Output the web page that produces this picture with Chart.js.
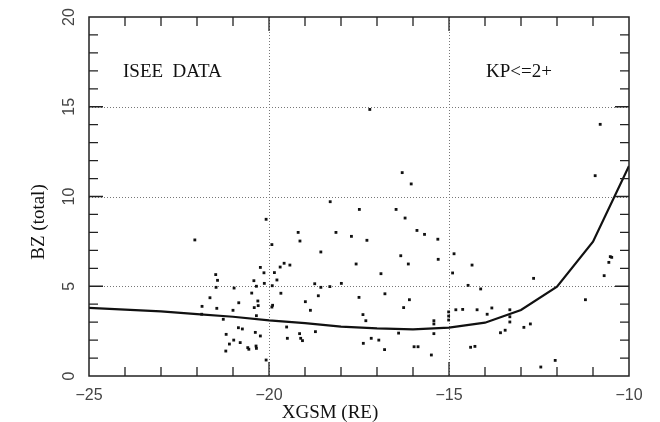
<!DOCTYPE html>
<html>
<head>
<meta charset="utf-8">
<script src="https://cdn.jsdelivr.net/npm/chart.js@4/dist/chart.umd.min.js"></script>
<style>
  body { margin: 0; background: #fff; }
  canvas { display: block; }
</style>
</head>
<body>
<canvas id="bzChart" width="660" height="422"></canvas>
<script>
// observed BZ samples
const scatterX = [
    -22.06, -20.08, -19.92, -19.19, -19.14, -18.3, -17.49, -18.14, -17.71, -17.28,
    -18.56, -17.58, -19.58, -19.42, -19.69, -19.85, -20.24, -20.14, -20.42, -20.13,
    -20.35, -19.91, -19.78, -21.48, -21.43, -21.47, -20.97, -20.48, -21.64, -21.86,
    -21.45, -20.84, -21.0, -20.31, -20.3, -20.41, -20.35, -19.9, -19.92, -19.67,
    -18.73, -18.56, -18.63, -18.31, -17.99, -18.99, -18.85, -17.5, -17.39, -17.31,
    -21.87, -21.27, -20.85, -20.74, -21.19, -20.98, -21.1, -20.8, -21.2, -20.59,
    -20.56, -20.38, -20.36, -20.35, -20.24, -20.08, -19.51, -19.49, -19.15, -19.12,
    -19.07, -18.71, -17.38, -17.16, -16.95,
    -16.3, -16.05, -16.47, -16.22, -15.89, -15.68, -15.31, -15.3, -16.34, -16.13,
    -16.89, -16.78, -16.1, -16.26, -14.86, -14.9, -14.36, -14.47, -14.12, -15.01,
    -15.01, -15.01, -14.81, -14.62, -14.22, -13.94, -13.81, -13.31, -13.31, -13.31,
    -13.57, -13.44, -12.92, -12.74, -12.65, -15.42, -15.42, -15.42, -15.49, -15.97,
    -15.86, -16.4, -16.79, -14.4, -14.28, -12.45, -12.05, -11.21, -10.94, -10.69,
    -10.56, -10.52, -10.48, -17.2, -10.8
];
const scatterY = [
    7.58, 8.73, 7.32, 8.0, 7.52, 9.71, 9.28, 8.0, 7.78, 7.56,
    6.91, 6.24, 6.28, 6.18, 6.07, 5.76, 6.05, 5.75, 5.31, 5.16,
    5.0, 5.03, 5.35, 5.65, 5.33, 4.94, 4.9, 4.62, 4.36, 3.88,
    3.77, 4.08, 3.66, 4.18, 3.92, 3.81, 3.36, 3.94, 3.84, 4.61,
    5.14, 4.94, 4.47, 4.98, 5.16, 4.14, 3.66, 4.38, 3.42, 3.08,
    3.44, 3.16, 2.69, 2.62, 2.32, 2.0, 1.78, 1.86, 1.39, 1.58,
    1.49, 2.43, 1.67, 1.54, 2.23, 0.89, 2.73, 2.1, 2.36, 2.1,
    1.97, 2.47, 1.82, 2.1, 2.0,
    11.33, 10.7, 9.28, 8.8, 8.11, 7.89, 7.62, 6.5, 6.7, 6.24,
    5.7, 4.58, 4.25, 3.81, 6.81, 5.74, 6.18, 5.05, 4.85, 3.57,
    3.34, 3.12, 3.69, 3.71, 3.69, 3.44, 3.79, 3.69, 3.3, 3.01,
    2.41, 2.55, 2.71, 2.9, 5.44, 3.08, 2.9, 2.36, 1.17, 1.63,
    1.63, 2.39, 1.47, 1.6, 1.65, 0.5, 0.87, 4.25, 11.16, 5.59,
    6.33, 6.65, 6.61, 14.85, 14.02
];

// model curve
const lineX = [-25, -24, -23, -22, -21, -20, -19, -18, -17, -16, -15, -14, -13, -12, -11, -10];
const lineY = [3.8, 3.7, 3.6, 3.45, 3.3, 3.1, 2.95, 2.75, 2.65, 2.6, 2.7, 2.97, 3.68, 4.98, 7.48, 11.7];

const xLabelTicks = [-25, -20, -15, -10];
const yLabelTicks = [0, 5, 10, 15, 20];
const xGridLines = [-20, -15];
const yGridLines = [5, 10, 15];

const toPoints = (xs, ys) => xs.map((x, i) => ({ x: x, y: ys[i] }));

const serif = '"Liberation Serif", "DejaVu Serif", serif';
const sans = '"Liberation Sans", "DejaVu Sans", sans-serif';

function minus(v) {
    return v < 0 ? "\u2212" + Math.abs(v) : String(v);
}

// frame, ticks, dotted grid and all the text are drawn by hand
const framePlugin = {
    id: "frame",
    beforeDraw(chart) {
        const ctx = chart.ctx;
        ctx.save();
        ctx.fillStyle = "#fff";
        ctx.fillRect(0, 0, chart.width, chart.height);
        ctx.restore();
    },
    beforeDatasetsDraw(chart) {
        const { ctx, chartArea: a, scales: { x, y } } = chart;
        ctx.save();
        ctx.strokeStyle = "#777";
        ctx.lineWidth = 1;
        ctx.setLineDash([1, 2]);
        yGridLines.forEach(v => {
            const py = Math.round(y.getPixelForValue(v)) + 0.5;
            ctx.beginPath();
            ctx.moveTo(a.left, py);
            ctx.lineTo(a.right, py);
            ctx.stroke();
        });
        xGridLines.forEach(v => {
            const px = Math.round(x.getPixelForValue(v)) + 0.5;
            ctx.beginPath();
            ctx.moveTo(px, a.top);
            ctx.lineTo(px, a.bottom);
            ctx.stroke();
        });
        ctx.restore();
    },
    afterDatasetsDraw(chart) {
        const { ctx, chartArea: a, scales: { x, y } } = chart;
        ctx.save();
        ctx.strokeStyle = "#222";
        ctx.lineWidth = 1.5;
        ctx.strokeRect(a.left, a.top, a.right - a.left, a.bottom - a.top);

        // inward tick marks, one per unit
        ctx.lineWidth = 1.3;
        for (let v = x.min + 1; v < x.max; v++) {
            const px = x.getPixelForValue(v);
            const len = v % 5 === 0 ? 14 : 9;
            ctx.beginPath();
            ctx.moveTo(px, a.bottom);
            ctx.lineTo(px, a.bottom - len);
            ctx.moveTo(px, a.top);
            ctx.lineTo(px, a.top + len);
            ctx.stroke();
        }
        for (let v = y.min + 1; v < y.max; v++) {
            const py = y.getPixelForValue(v);
            const len = v % 5 === 0 ? 14 : 9;
            ctx.beginPath();
            ctx.moveTo(a.left, py);
            ctx.lineTo(a.left + len, py);
            ctx.moveTo(a.right, py);
            ctx.lineTo(a.right - len, py);
            ctx.stroke();
        }

        // tick labels
        ctx.fillStyle = "#444";
        ctx.font = "16px " + sans;
        ctx.textAlign = "center";
        ctx.textBaseline = "middle";
        xLabelTicks.forEach(v => {
            ctx.fillText(minus(v), x.getPixelForValue(v), 396);
        });
        yLabelTicks.forEach(v => {
            ctx.save();
            ctx.translate(70, y.getPixelForValue(v));
            ctx.rotate(-Math.PI / 2);
            ctx.fillText(String(v), 0, 0);
            ctx.restore();
        });

        // axis titles
        ctx.fillStyle = "#111";
        ctx.font = "19px " + serif;
        ctx.fillText("XGSM (RE)", 330, 413);
        ctx.save();
        ctx.translate(39, 222);
        ctx.rotate(-Math.PI / 2);
        ctx.fillText("BZ (total)", 0, 0);
        ctx.restore();

        // panel notes
        ctx.textAlign = "left";
        ctx.fillText("ISEE  DATA", 123, 72);
        ctx.fillText("KP<=2+", 486, 72);
        ctx.restore();
    }
};

new Chart(document.getElementById("bzChart"), {
    type: "scatter",
    data: {
        datasets: [{
            data: toPoints(scatterX, scatterY),
            pointStyle: "rect",
            pointRadius: 2,
            backgroundColor: "#111",
            borderWidth: 0
        }, {
            data: toPoints(lineX, lineY),
            showLine: true,
            pointRadius: 0,
            borderColor: "#111",
            borderWidth: 2.2,
            fill: false
        }]
    },
    options: {
        responsive: false,
        animation: false,
        layout: {
            padding: { left: 89, right: 31, top: 17, bottom: 46 }
        },
        plugins: {
            legend: { display: false },
            tooltip: { enabled: false }
        },
        scales: {
            x: { type: "linear", min: -25, max: -10, display: false },
            y: { type: "linear", min: 0, max: 20, display: false }
        }
    },
    plugins: [framePlugin]
});
</script>
</body>
</html>
